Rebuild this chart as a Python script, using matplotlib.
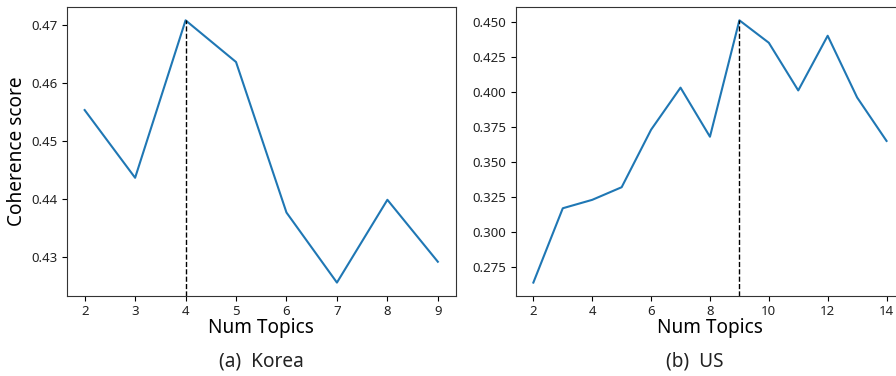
import matplotlib
matplotlib.use("Agg")
import matplotlib.pyplot as plt

plt.rcParams['font.family'] = ['Noto Sans', 'DejaVu Sans']
plt.rcParams['text.color'] = '#222222'
plt.rcParams['xtick.labelcolor'] = '#222222'
plt.rcParams['ytick.labelcolor'] = '#222222'
plt.rcParams['axes.edgecolor'] = '#333333'

korea_topics = [2, 3, 4, 5, 6, 7, 8, 9]
korea_scores = [0.4553, 0.4436, 0.4708, 0.4636, 0.4376, 0.4255, 0.4398, 0.4291]
korea_best = 4

us_topics = [2, 3, 4, 5, 6, 7, 8, 9, 10, 11, 12, 13, 14]
us_scores = [0.264, 0.317, 0.323, 0.332, 0.373, 0.403, 0.368, 0.451, 0.435, 0.401, 0.440, 0.396, 0.365]
us_best = 9

captions = ["(a)  Korea", "(b)  US"]

W, H = 896, 376
fig = plt.figure(figsize=(W / 100, H / 100), dpi=100)

ax1 = fig.add_axes([67 / W, 1 - 295.7 / H, 388.5 / W, 288.5 / H])
ax2 = fig.add_axes([515.7 / W, 1 - 295.7 / H, 388.5 / W, 288.5 / H])

for ax, xs, ys, best in [(ax1, korea_topics, korea_scores, korea_best),
                         (ax2, us_topics, us_scores, us_best)]:
    ax.plot(xs, ys, color='#1f77b4', lw=1.5)
    ax.relim()
    ax.autoscale_view()
    ylim = ax.get_ylim()
    xlim = ax.get_xlim()
    ax.vlines(best, ylim[0], ys[xs.index(best)], colors='black', linestyles='--', lw=1)
    ax.set_ylim(ylim)
    ax.set_xlim(xlim)
    ax.tick_params(labelsize=9.5)
    ax.set_xlabel('Num Topics', fontsize=13.7)
    ax.xaxis.set_label_coords(0.5, -(318.5 - 295.7) / 288.5)

ax1.set_ylabel('Coherence score', fontsize=13.7)
ax1.yaxis.set_label_coords((27 - 67) / 388.5, 0.5)
ax1.set_yticks([0.43, 0.44, 0.45, 0.46, 0.47])
ax2.set_xticks([2, 4, 6, 8, 10, 12, 14])

fig.text(261 / W, 1 - 362 / H, captions[0], ha='center', va='center', fontsize=13.7)
fig.text(695 / W, 1 - 362 / H, captions[1], ha='center', va='center', fontsize=13.7)

fig.savefig('out.png', dpi=100)
